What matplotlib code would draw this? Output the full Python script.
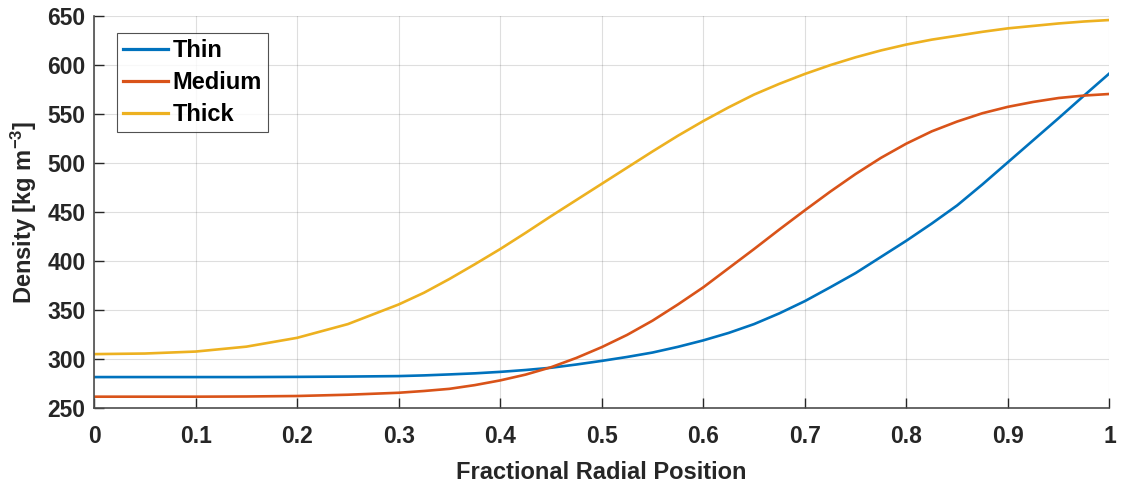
import numpy as np
import matplotlib
matplotlib.use('Agg')
import matplotlib.pyplot as plt

# Values
x = [0, 0.05, 0.1, 0.15, 0.2, 0.25, 0.3, 0.325, 0.35, 0.375, 0.4, 0.425, 0.45,
     0.475, 0.5, 0.525, 0.55, 0.575, 0.6, 0.625, 0.65, 0.675, 0.7, 0.725,
     0.75, 0.775, 0.8, 0.825, 0.85, 0.875, 0.9, 0.925, 0.95, 0.975, 1.0]
thin = [282, 282, 282, 282, 282.2, 282.5, 283, 283.7, 284.7, 285.8, 287.3, 289.2, 291.5,
        294.8, 298.5, 302.5, 307, 312.8, 319.4, 327, 336, 347, 359.4, 373.5,
        388, 404.5, 421, 438.5, 457, 478.5, 501, 523.5, 546, 569, 591.6]
medium = [262, 262, 262, 262.2, 262.7, 264, 266, 267.8, 270, 273.8, 278.6, 284.5, 292,
          301.5, 312.5, 325, 339.5, 356, 373.5, 393, 412.5, 432.5, 452, 471,
          489, 505.5, 520, 532.5, 542.5, 551, 557.5, 562.5, 566.5, 569, 570.6]
thick = [305.4, 306, 308, 313, 322, 336, 356, 368, 382, 397, 412.5, 429, 446,
         462.5, 479, 495.5, 512, 528, 543, 557, 570, 581, 591, 600,
         608, 615, 621, 626, 630, 634, 637.5, 640, 642.5, 644.5, 646]

labels = ['Thin', 'Medium', 'Thick']
colors = ['#0072BD', '#D95319', '#EDB120']

plt.rcParams['font.family'] = 'Liberation Sans'
plt.rcParams['font.weight'] = 'bold'
plt.rcParams['mathtext.fontset'] = 'custom'
plt.rcParams['mathtext.rm'] = 'Liberation Sans:bold'
plt.rcParams['mathtext.default'] = 'rm'

fig = plt.figure(figsize=(11.22, 4.88), dpi=100)
ax = fig.add_axes([0.0838, 0.163, 0.905, 0.804])

for y, lab, c in zip([thin, medium, thick], labels, colors):
    ax.plot(x, y, color=c, lw=1.9, label=lab)

ax.set_xlim(0, 1)
ax.set_ylim(250, 650)
ax.set_xticks(np.arange(0, 1.01, 0.1))
ax.set_xticklabels(['0', '0.1', '0.2', '0.3', '0.4', '0.5', '0.6', '0.7', '0.8', '0.9', '1'])
ax.set_yticks(np.arange(250, 651, 50))

ax.grid(True, color='#262626', alpha=0.15, lw=0.8)
ax.set_axisbelow(True)
for s in ['top', 'right']:
    ax.spines[s].set_visible(False)
for s in ['left', 'bottom']:
    ax.spines[s].set_color('#4d4d4d')
    ax.spines[s].set_linewidth(1.2)
ax.tick_params(direction='in', length=7, width=1, color='#262626',
               labelsize=16.5, labelcolor='#262626')
ax.tick_params(axis='x', pad=12)
ax.tick_params(axis='y', pad=6)

ax.set_xlabel('Fractional Radial Position', fontsize=17, fontweight='bold',
              color='#262626', labelpad=9)
ax.set_ylabel('Density [kg m$^{-3}$]', fontsize=17, fontweight='bold',
              color='#262626', labelpad=6)

leg = ax.legend(loc='upper left', bbox_to_anchor=(0.0226, 0.957), fontsize=17,
                frameon=True, fancybox=False, edgecolor='#262626',
                handlelength=1.9, handletextpad=0.2, borderpad=0.25,
                labelspacing=0.38, borderaxespad=0)
leg.get_frame().set_linewidth(0.8)
for t in leg.get_texts():
    t.set_fontweight('bold')
    t.set_color('black')
for h in leg.get_lines():
    h.set_linewidth(2.3)

fig.savefig('out.png', dpi=100)
